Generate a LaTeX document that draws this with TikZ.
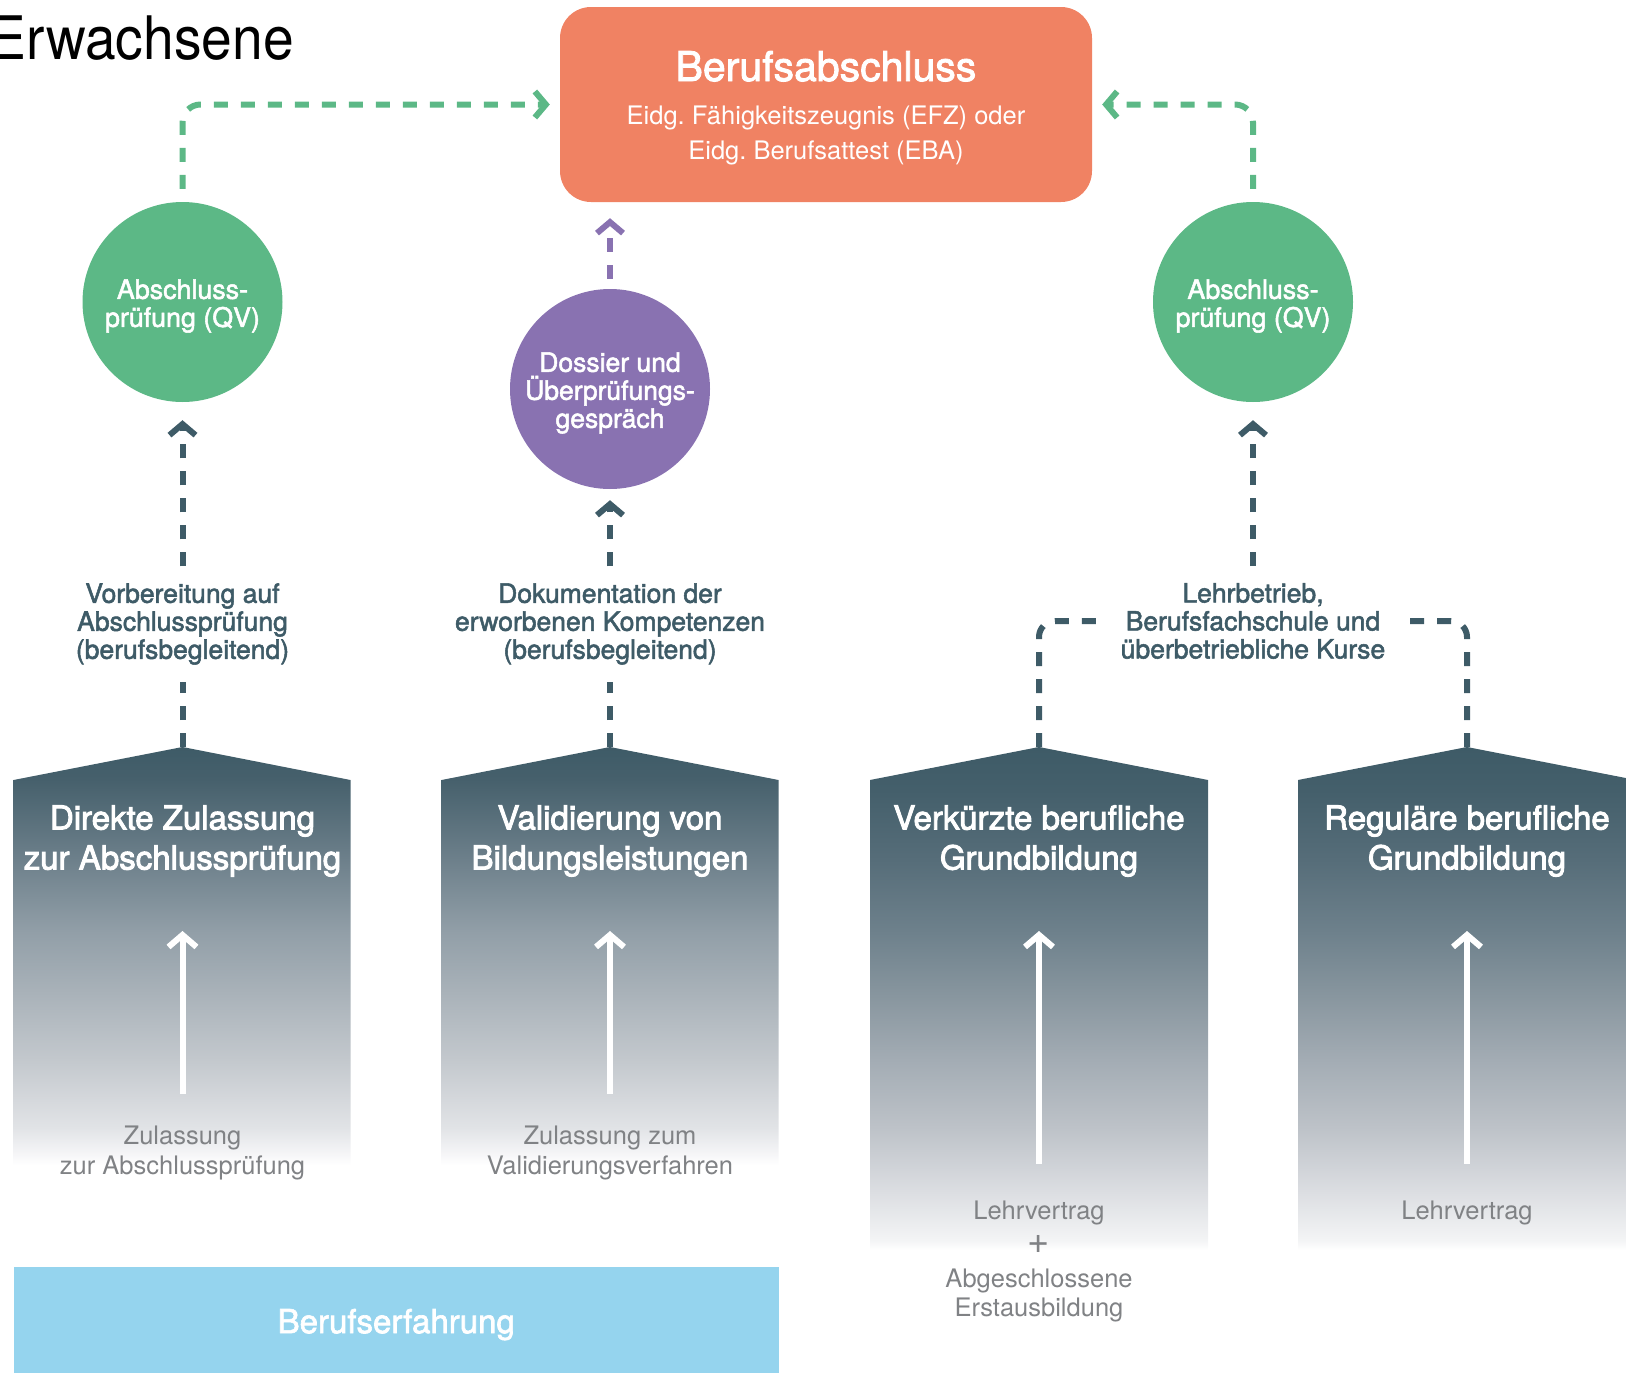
\documentclass[tikz,border=0pt]{standalone}
\usepackage{fontspec}
\setmainfont{TeX Gyre Heros}
\newfontfamily\medfont{TeX Gyre Heros}[FakeBold=2]
\newfontfamily\semifont{TeX Gyre Heros}[FakeBold=2.8]
\usetikzlibrary{arrows.meta}
\definecolor{cgreen}{HTML}{5CB886}
\definecolor{csalmon}{HTML}{F08263}
\definecolor{cpurple}{HTML}{8972B1}
\definecolor{cslate}{HTML}{3E5B67}
\definecolor{cblue}{HTML}{95D4EE}
\definecolor{cgray}{HTML}{808285}
% shading stops for short houses
\definecolor{sa1}{HTML}{F5F5F7}
\definecolor{sa2}{HTML}{E1E3E6}
\definecolor{sa3}{HTML}{C3C8CD}
\definecolor{sa4}{HTML}{A9B2B9}
\definecolor{sa5}{HTML}{929FA8}
\definecolor{sa6}{HTML}{6D808B}
\definecolor{sa7}{HTML}{46606C}
% shading stops for long houses
\definecolor{sb1}{HTML}{F3F4F5}
\definecolor{sb2}{HTML}{DCDEE2}
\definecolor{sb3}{HTML}{BDC2C8}
\definecolor{sb4}{HTML}{A3ACB4}
\definecolor{sb5}{HTML}{87959E}
\definecolor{sb6}{HTML}{6E818C}
\definecolor{sb7}{HTML}{566D79}
\definecolor{sb8}{HTML}{445F6B}
\pgfdeclareverticalshading{houseA}{100bp}{color(0bp)=(white); color(25bp)=(white); color(26.4bp)=(sa1); color(29.5bp)=(sa2); color(37.6bp)=(sa3); color(45.6bp)=(sa4); color(52.8bp)=(sa5); color(61.5bp)=(sa6); color(71.1bp)=(sa7); color(75bp)=(cslate); color(100bp)=(cslate)}
\pgfdeclareverticalshading{houseB}{100bp}{color(0bp)=(white); color(25bp)=(white); color(26bp)=(sb1); color(30.7bp)=(sb2); color(37.2bp)=(sb3); color(43.9bp)=(sb4); color(50.5bp)=(sb5); color(56.5bp)=(sb6); color(63.8bp)=(sb7); color(70.7bp)=(sb8); color(75bp)=(cslate); color(100bp)=(cslate)}
\frenchspacing
\begin{document}
\begin{tikzpicture}[x=1pt,y=-1pt,
  chev/.style={-{Straight Barb[length=11pt,width=26pt,sharp]}},
  gdash/.style={draw=cgreen,line width=6pt,dash pattern=on 14pt off 13pt,rounded corners=18pt,chev},
  pdash/.style={draw=cpurple,line width=6pt,dash pattern=on 14pt off 13pt,chev},
  dline/.style={draw=cslate,line width=6pt,dash pattern=on 14pt off 13pt},
  darrow/.style={dline,chev},
  warrow/.style={draw=white,line width=6pt,-{Straight Barb[length=12pt,width=28pt,sharp]}},
  bubble/.style={circle,minimum size=200pt,inner sep=0pt},
  bubbletext/.style={text=white,align=center,inner sep=0pt,font=\medfont\fontsize{26.8}{28}\selectfont},
  steplabel/.style={align=center,text=cslate,font=\medfont\fontsize{26.5}{28}\selectfont,inner xsep=22pt,inner ysep=17pt,outer sep=0pt},
  housetitle/.style={align=center,text=white,font=\semifont\fontsize{33}{40}\selectfont},
  graytext/.style={align=center,text=cgray,font=\fontsize{25.5}{30}\selectfont,inner sep=0pt}
]
\useasboundingbox (0,0) rectangle (1626,1373);
\clip (0,0) rectangle (1626,1373);

% title
\node[anchor=base west,font=\fontsize{60}{70}\selectfont,inner sep=0pt,xscale=0.92,transform shape] (title) at (-11,59) {Erwachsene};

% top box
\node[fill=csalmon,rounded corners=31pt,minimum width=532pt,minimum height=195pt,inner sep=0pt] (ba) at (826,104.5) {};
\node[anchor=base,text=white,font=\medfont\fontsize{41}{48}\selectfont] (batitle) at (826,81) {Berufsabschluss};
\node[anchor=base,text=white,font=\fontsize{25.5}{30}\selectfont] (basub1) at (826,124) {Eidg. Fähigkeitszeugnis (EFZ) oder};
\node[anchor=base,text=white,font=\fontsize{25.5}{30}\selectfont] (basub2) at (826,159) {Eidg. Berufsattest (EBA)};

% circles
\node[bubble,fill=cgreen] (qv1) at (182.5,302) {};
\node[bubbletext] (qv1t) at (182.5,306) {Abschluss-\\prüfung (QV)};
\node[bubble,fill=cgreen] (qv2) at (1253,302) {};
\node[bubbletext] (qv2t) at (1253,306) {Abschluss-\\prüfung (QV)};
\node[bubble,fill=cpurple] (dossier) at (610,389) {};
\node[bubbletext,font=\medfont\fontsize{26.5}{28}\selectfont] (dossiert) at (610,393) {Dossier und\\Überprüfungs-\\gespräch};

% houses
\shade[shading=houseA] (13.5,1165) -- (13.5,780) -- (182.5,747) -- (350.5,780) -- (350.5,1165) -- cycle;
\shade[shading=houseA] (441.5,1165) -- (441.5,780) -- (610,747) -- (778.5,780) -- (778.5,1165) -- cycle;
\shade[shading=houseB] (870,1250) -- (870,780) -- (1039,747) -- (1208,780) -- (1208,1250) -- cycle;
\shade[shading=houseB] (1298,1250) -- (1298,780) -- (1467,747) -- (1636,780) -- (1636,1250) -- cycle;
\coordinate (h1top) at (182.5,747);
\coordinate (h2top) at (610,747);
\coordinate (h3top) at (1039,747);
\coordinate (h4top) at (1467,747);

\node[housetitle] (t1) at (182.5,841) {Direkte Zulassung\\zur Abschlussprüfung};
\node[housetitle] (t2) at (610,841) {Validierung von\\Bildungsleistungen};
\node[housetitle] (t3) at (1039,841) {Verkürzte berufliche\\Grundbildung};
\node[housetitle] (t4) at (1467,841) {Reguläre berufliche\\Grundbildung};

% white arrows in houses
\coordinate (w1a) at (182.5,1094); \coordinate (w1b) at (182.5,931);
\coordinate (w2a) at (610,1094);   \coordinate (w2b) at (610,931);
\coordinate (w3a) at (1039,1164);  \coordinate (w3b) at (1039,931);
\coordinate (w4a) at (1467,1164);  \coordinate (w4b) at (1467,931);
\draw[warrow] (w1a) -- (w1b);
\draw[warrow] (w2a) -- (w2b);
\draw[warrow] (w3a) -- (w3b);
\draw[warrow] (w4a) -- (w4b);

% gray texts
\node[graytext] (z1) at (182.5,1153) {Zulassung\\zur Abschlussprüfung};
\node[graytext] (z2) at (610,1153) {Zulassung zum\\Validierungsverfahren};
\node[graytext,anchor=base] (lv3) at (1039,1219) {Lehrvertrag};
\node[graytext,font=\fontsize{38}{40}\selectfont] (plus) at (1039,1244) {+};
\node[graytext,font=\fontsize{25.5}{29}\selectfont] (ab3) at (1039,1295) {Abgeschlossene\\Erstausbildung};
\node[graytext,anchor=base] (lv4) at (1467,1219) {Lehrvertrag};

% Berufserfahrung
\node[fill=cblue,minimum width=765.5pt,minimum height=106pt,inner sep=0pt,text=white,font=\medfont\fontsize{33}{36}\selectfont,text depth=0pt] (be) at (396.25,1320) {\raisebox{-2pt}{Berufserfahrung}};

% step labels
\node[steplabel] (lab1) at (182.5,624) {Vorbereitung auf\\Abschlussprüfung\\(berufsbegleitend)};
\node[steplabel] (lab2) at (610,624) {Dokumentation der\\erworbenen Kompetenzen\\(berufsbegleitend)};
\node[steplabel] (lab3) at (1253,621) {Lehrbetrieb,\\Berufsfachschule und\\überbetriebliche Kurse};

% connectors
\draw[gdash,shorten <=13pt,shorten >=10pt] (qv1.north) |- (ba.west);
\draw[gdash,shorten <=13pt,shorten >=10pt] (qv2.north) |- (ba.east);
\draw[pdash,shorten <=10pt,shorten >=16pt] (dossier.north) -- (dossier.north |- ba.south);

\draw[dline] (h1top) -- (lab1.south);
\draw[darrow,shorten >=18pt] (lab1.north) -- (qv1.south);
\draw[dline] (h2top) -- (lab2.south);
\draw[darrow,shorten >=11pt] (lab2.north) -- (dossier.south);
\draw[dline,rounded corners=16pt] (h3top) |- (lab3.west);
\draw[dline,rounded corners=16pt] (h4top) |- (lab3.east);
\draw[darrow,shorten >=18pt] (lab3.north) -- (qv2.south);
\end{tikzpicture}
\end{document}
